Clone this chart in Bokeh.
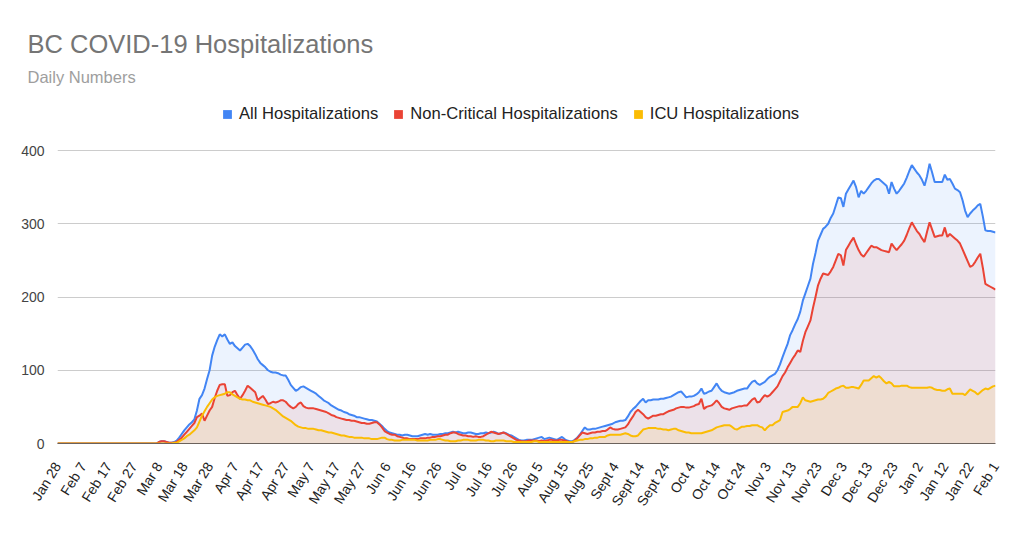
import math
from bokeh.plotting import figure
from bokeh.models import Range1d, FixedTicker, Legend, LegendItem, Title
from bokeh.embed import file_html
from bokeh.resources import INLINE

# ---------------- data (daily, starting Jan 28, 2020) ----------------
tick_labels = ["Jan 28", "Feb 7", "Feb 17", "Feb 27", "Mar 8", "Mar 18", "Mar 28",
               "Apr 7", "Apr 17", "Apr 27", "May 7", "May 17", "May 27", "Jun 6",
               "Jun 16", "Jun 26", "Jul 6", "Jul 16", "Jul 26", "Aug 5", "Aug 15",
               "Aug 25", "Sept 4", "Sept 14", "Sept 24", "Oct 4", "Oct 14", "Oct 24",
               "Nov 3", "Nov 13", "Nov 23", "Dec 3", "Dec 13", "Dec 23", "Jan 2",
               "Jan 12", "Jan 22", "Feb 1"]

all_hosp = [
    0, 0, 0, 0, 0, 0, 0, 0, 0, 0, 0, 0, 0, 0, 0, 0, 0, 0, 0, 0,
    0, 0, 0, 0, 0, 0, 0, 0, 0, 0, 0, 0, 0, 0, 0, 0, 0, 0, 0, 0,
    2, 3, 3, 2, 1, 1, 2,
    4, 8, 13, 18, 22, 26, 29, 33, 45, 61,
    66, 75, 88, 100, 120, 132, 141, 149, 146, 149,
    142, 136, 138, 133, 130, 127, 131, 135, 136, 133,
    128, 122, 115, 110, 107, 104, 100, 98, 97, 97,
    96, 94, 93, 93, 87, 80, 76, 72, 74, 77,
    78, 76, 74, 72, 70, 68, 65, 62,
    59, 57, 55, 52, 50, 48, 46, 45, 43, 42,
    40, 39, 38, 36, 36, 35, 34, 33, 32, 32,
    31, 30, 27, 24, 20, 17, 15, 14, 13, 12,
    12, 11, 12, 12, 11, 10, 10, 10, 11, 12,
    13, 12, 13, 12, 12, 12, 13, 13, 14, 14,
    15, 16, 15, 16, 15, 14, 14, 15, 15,
    14, 13, 13, 14, 14, 15, 14, 15, 16, 15,
    13, 14, 15, 14, 12, 11, 9, 7, 5, 4,
    4, 5, 5, 5, 6, 7, 8, 9, 6, 7,
    8, 7, 6, 5, 7, 9, 6, 4, 3, 3,
    5, 8, 12, 17, 22, 19, 19, 20, 20, 21,
    22, 23, 24, 25, 26, 27, 29, 30, 31, 31,
    32, 37, 43, 47, 50, 54, 58,
    61, 56, 59, 59, 60, 60, 60, 61, 61, 62,
    63, 64, 66, 68, 70, 71, 67, 63, 64, 64,
    65, 67, 70, 75, 68, 69, 71, 72, 77, 82,
    76, 72, 70, 69, 68, 69, 70, 72, 73, 74,
    75, 75, 80, 84, 86, 82, 80, 82, 84, 88,
    91, 93, 95,
    100, 108, 118, 127, 136, 148, 155, 163, 170, 180,
    195, 205, 215, 225, 245, 260, 277, 285, 293, 296,
    300, 308, 314, 325, 336, 335, 323, 341, 347, 353,
    359, 350, 336, 345, 341, 345, 350, 355, 359, 361,
    361, 358, 355, 352, 341, 357, 348, 341, 345, 350,
    355, 363, 372, 380, 375, 370, 366, 360, 352, 365,
    382, 370, 357, 357, 357, 357, 367, 360, 361, 355,
    348, 346, 343, 332, 318, 309, 314, 318, 321, 325,
    327, 310, 291, 290, 290, 289, 288]

non_critical = [
    0, 0, 0, 0, 0, 0, 0, 0, 0, 0, 0, 0, 0, 0, 0, 0, 0, 0, 0, 0,
    0, 0, 0, 0, 0, 0, 0, 0, 0, 0, 0, 0, 0, 0, 0, 0, 0, 0, 0, 0,
    2, 3, 3, 2, 1, 1, 1,
    2, 5, 8, 12, 16, 20, 24, 28, 36, 38,
    41, 31, 38, 45, 50, 62, 72, 80, 81, 81,
    65, 66, 70, 72, 66, 61, 66, 72, 79, 76,
    73, 70, 59, 62, 65, 60, 54, 55, 57, 56,
    57, 59, 59, 57, 53, 50, 48, 50, 54, 56,
    51, 49, 48, 48, 48, 47, 46, 45,
    44, 43, 41, 39, 38, 36, 35, 34, 33, 32,
    32, 31, 31, 30, 29, 28, 28, 27, 27, 28,
    29, 29, 26, 22, 17, 15, 13, 12, 12, 10,
    9, 8, 7, 7, 6, 6, 6, 6, 7, 7,
    7, 8, 8, 9, 9, 10, 10, 11, 12, 12,
    14, 15, 15, 13, 12, 11, 11, 10, 10,
    9, 10, 9, 9, 10, 12, 14, 16, 15, 14,
    13, 14, 15, 13, 11, 9, 7, 5, 4, 3,
    3, 3, 4, 4, 4, 4, 3, 4, 3, 4,
    5, 5, 4, 4, 5, 5, 4, 3, 2, 2,
    4, 7, 11, 15, 14, 13, 14, 15, 15, 16,
    16, 17, 17, 19, 22, 20, 19, 19, 20, 21,
    22, 26, 32, 37, 43, 46, 43,
    40, 36, 34, 36, 38, 38, 39, 40, 40, 42,
    44, 45, 46, 48, 49, 50, 50, 49, 49, 50,
    51, 53, 54, 61, 47, 50, 51, 52, 55, 59,
    55, 50, 48, 47, 46, 48, 49, 50, 51, 51,
    52, 52, 56, 60, 62, 56, 57, 62, 66, 64,
    66, 70, 74,
    78, 85, 92, 97, 104, 110, 116, 121, 127, 125,
    140, 152, 160, 168, 185, 200, 216, 225, 232, 231,
    230, 235, 241, 250, 259, 257, 243, 264, 270, 276,
    281, 272, 264, 258, 255, 260, 265, 270, 268, 268,
    266, 264, 263, 262, 261, 273, 268, 264, 268, 272,
    277, 285, 294, 302, 296, 290, 286, 280, 275, 289,
    302, 292, 282, 283, 284, 284, 295, 282, 286, 283,
    280, 277, 273, 265, 257, 249, 241, 243, 248, 254,
    259, 240, 218, 216, 214, 212, 210]

icu = [
    0, 0, 0, 0, 0, 0, 0, 0, 0, 0, 0, 0, 0, 0, 0, 0, 0, 0, 0, 0,
    0, 0, 0, 0, 0, 0, 0, 0, 0, 0, 0, 0, 0, 0, 0, 0, 0, 0, 0, 0,
    0, 0, 0, 0, 0, 0, 1,
    1, 3, 5, 7, 10, 12, 15, 18, 22, 30,
    38, 44, 50, 55, 60, 63, 65, 66, 67, 68,
    70, 70, 67, 65, 63, 61, 60, 60, 59, 59,
    57, 56, 55, 54, 53, 52, 51, 50, 48, 46,
    43, 40, 37, 35, 33, 31, 28, 25, 23, 22,
    21, 21, 20, 20, 20, 19, 18, 18,
    17, 16, 15, 15, 14, 13, 12, 11, 11, 10,
    9, 9, 8, 8, 8, 8, 7, 7, 7, 6,
    6, 6, 7, 8, 8, 6, 5, 5, 4, 4,
    4, 5, 5, 5, 5, 5, 5, 4, 4, 4,
    4, 4, 5, 5, 5, 6, 6, 5, 4, 4,
    3, 3, 3, 4, 4, 5, 5, 5, 4,
    4, 4, 5, 5, 5, 4, 4, 3, 3, 4,
    4, 4, 4, 3, 3, 3, 2, 2, 2, 2,
    2, 2, 2, 2, 3, 3, 2, 2, 2, 2,
    2, 2, 2, 2, 2, 2, 2, 2, 2, 2,
    3, 4, 5, 5, 6, 6, 7, 7, 8, 8,
    9, 9, 9, 11, 12, 12, 12, 12, 12, 13,
    14, 13, 11, 10, 10, 11, 15,
    19, 20, 21, 21, 21, 21, 20, 20, 19, 19,
    18, 19, 20, 20, 18, 17, 16, 15, 15, 14,
    14, 14, 14, 14, 15, 16, 17, 18, 20, 22,
    23, 24, 25, 25, 25, 23, 20, 19, 21, 23,
    23, 24, 24, 25, 25, 25, 23, 22, 18, 22,
    25, 25, 28,
    30, 32, 43, 44, 45, 47, 50, 50, 50, 55,
    63, 59, 58, 57, 58, 59, 60, 60, 61, 64,
    69, 71, 73, 75, 76, 78, 79, 76, 76, 77,
    77, 76, 75, 80, 86, 86, 86, 89, 92, 90,
    92, 89, 85, 82, 84, 82, 78, 78, 78, 79,
    79, 79, 77, 76, 76, 76, 76, 76, 76, 76,
    77, 76, 74, 73, 73, 72, 72, 74, 75, 68,
    68, 68, 68, 68, 66, 70, 74, 72, 70, 67,
    70, 73, 75, 74, 76, 78, 79]

series_names = ["All Hospitalizations", "Non-Critical Hospitalizations", "ICU Hospitalizations"]
series_colors = ["#4285f4", "#ea4335", "#fbbc04"]
y_ticks = [0, 100, 200, 300, 400]

days = list(range(len(all_hosp)))
n_days = len(all_hosp) - 1
tick_days = [i * 10 for i in range(len(tick_labels))]

FONT = "Liberation Sans"

# ---------------- layout (pixels) ----------------
W, H = 1022, 535
FRAME_L, FRAME_R, FRAME_T, FRAME_B = 57, 995, 90, 443
GRID_TOP_PX = 150          # where the 400 gridline sits
y_max_visible = 400 * (FRAME_B - FRAME_T) / (FRAME_B - GRID_TOP_PX)

p = figure(width=W, height=H, output_backend="svg", toolbar_location=None,
           title=None, x_range=Range1d(0, n_days), y_range=Range1d(0, y_max_visible),
           min_border_left=FRAME_L, min_border_right=W - FRAME_R,
           min_border_top=FRAME_T, min_border_bottom=H - FRAME_B,
           background_fill_color="white", border_fill_color="white")
p.outline_line_color = None

series = [all_hosp, non_critical, icu]
for vals, col in zip(series, series_colors):
    p.varea(x=days, y1=[0] * len(vals), y2=vals, fill_color=col, fill_alpha=0.1)
for vals, col in zip(series, series_colors):
    p.line(days, vals, line_color=col, line_width=2)

# axes
p.yaxis.ticker = FixedTicker(ticks=y_ticks)
p.yaxis.axis_line_color = None
p.yaxis.major_tick_line_color = None
p.yaxis.minor_tick_line_color = None
p.yaxis.major_label_standoff = 7
p.yaxis.major_label_text_font = FONT
p.yaxis.major_label_text_font_size = "14px"
p.yaxis.major_label_text_color = "#444444"

p.xaxis.ticker = FixedTicker(ticks=tick_days)
p.xaxis.major_label_overrides = {d: lab for d, lab in zip(tick_days, tick_labels)}
p.xaxis.major_label_orientation = math.radians(58)
p.xaxis.major_tick_line_color = None
p.xaxis.minor_tick_line_color = None
p.xaxis.axis_line_color = "#6b625c"
p.xaxis.axis_line_width = 1
p.xaxis.major_label_standoff = 14
p.xaxis.major_label_text_font = FONT
p.xaxis.major_label_text_font_size = "14px"
p.xaxis.major_label_text_color = "#222222"

p.xgrid.grid_line_color = None
p.ygrid.grid_line_color = "#cccccc"
p.ygrid.grid_line_width = 1

# legend with square swatches (size-0 markers on the first data point; the
# legend draws its own square glyph)
swatches = [p.scatter(x=days[:1], y=vals[:1], size=0, marker="square",
                      fill_color=c, line_color=None)
            for vals, c in zip(series, series_colors)]
legend = Legend(items=[LegendItem(label=nm, renderers=[r]) for nm, r in zip(series_names, swatches)],
                location=(216 - FRAME_L, FRAME_B - 114 - 11), orientation="horizontal",
                glyph_width=22, glyph_height=22, label_standoff=1, spacing=9,
                label_height=22, padding=0, margin=0, border_line_color=None,
                background_fill_alpha=0,
                label_text_font=FONT, label_text_font_size="16.6px",
                label_text_color="#222222")
p.add_layout(legend)

# titles
sub = Title(text="Daily Numbers", align="left", offset=-30, vertical_align="top",
            standoff=6, text_font=FONT, text_font_size="16.5px",
            text_color="#9e9e9e", text_font_style="normal")
p.add_layout(sub, "above")
ttl = Title(text="BC COVID-19 Hospitalizations", align="left", offset=-30,
            vertical_align="top", standoff=9, text_font=FONT,
            text_font_size="25.5px", text_color="#757575", text_font_style="normal")
p.add_layout(ttl, "above")

open("out.html", "w").write(file_html(p, INLINE))
